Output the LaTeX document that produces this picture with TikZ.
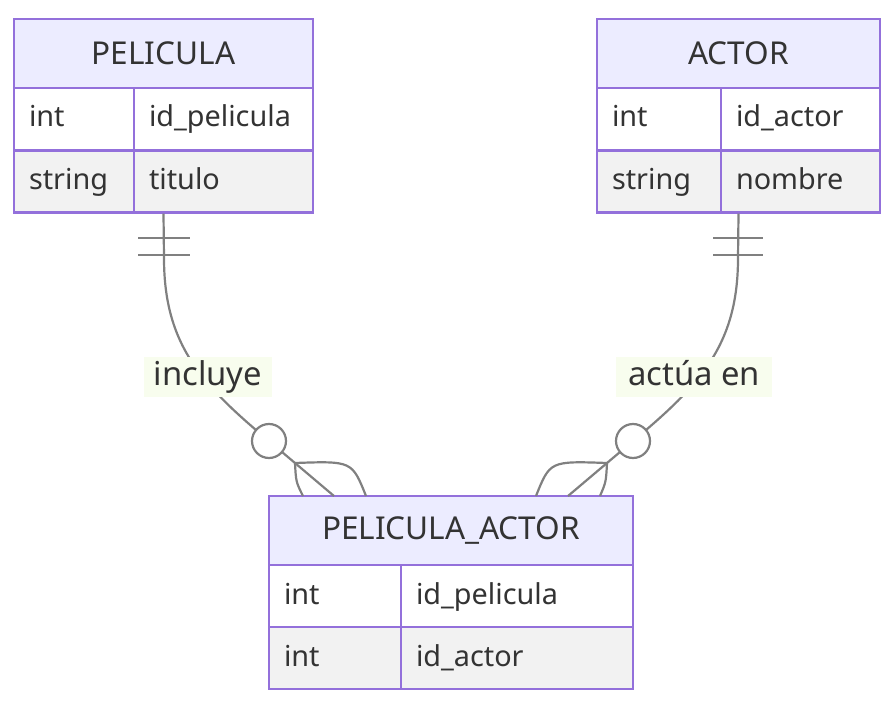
\documentclass[tikz,border=0pt]{standalone}
\usepackage{fontspec}
\usepackage{xcolor}
\usepackage{tikz}

\newfontfamily\ersans{Noto Sans}
\newcommand{\hdrfont}{\ersans\fontsize{31.5}{36}\selectfont}
\newcommand{\rowfont}{\ersans\fontsize{28.8}{32}\selectfont}
\newcommand{\lblfont}{\ersans\fontsize{32.8}{36}\selectfont}

\definecolor{erborder}{HTML}{9370DB}
\definecolor{erhead}{HTML}{ECECFF}
\definecolor{errow}{HTML}{F2F2F2}
\definecolor{ertext}{HTML}{333333}
\definecolor{erline}{HTML}{808080}
\definecolor{erlabel}{HTML}{F8FDEE}

\begin{document}
\begin{tikzpicture}[x=1pt, y=-1pt,
  hdr/.style={draw=erborder, line width=2.2pt, fill=erhead, text=ertext, minimum height=69pt, font=\hdrfont},
  cell/.style={draw=erborder, line width=2.2pt, text=ertext, minimum height=62pt, inner xsep=15pt, inner ysep=0pt, align=left, font=\rowfont, text width=#1, text height=21pt, text depth=5pt},
  oddrow/.style={fill=white},
  evenrow/.style={fill=errow},
  rel/.style={draw=erline, line width=2.2pt},
  zero/.style={circle, draw=erline, line width=2.2pt, fill=white, minimum size=34pt, inner sep=0pt},
  lbl/.style={fill=erlabel, text=ertext, font=\lblfont, inner sep=0pt, minimum height=40pt, text height=23pt, text depth=6pt}
]
\useasboundingbox (0,0) rectangle (896,703);

% PELICULA
\node[hdr, minimum width=299pt] (pel) at (163.5,53.5) {PELICULA};
\node[cell=90pt, oddrow] (pel-t1) at (74,119) {int};
\node[cell=149pt, oddrow] (pel-n1) at (223.5,119) {id\_pelicula};
\node[cell=90pt, evenrow] (pel-t2) at (74,181.5) {string};
\node[cell=149pt, evenrow] (pel-n2) at (223.5,181.5) {titulo};

% ACTOR
\node[hdr, minimum width=283pt] (act) at (738.5,53.5) {ACTOR};
\node[cell=94pt, oddrow] (act-t1) at (659,119) {int};
\node[cell=129pt, oddrow] (act-n1) at (800.5,119) {id\_actor};
\node[cell=94pt, evenrow] (act-t2) at (659,181.5) {string};
\node[cell=129pt, evenrow] (act-n2) at (800.5,181.5) {nombre};

% PELICULA_ACTOR
\node[hdr, minimum width=364pt] (pa) at (451,530.5) {PELICULA\_ACTOR};
\node[cell=102pt, oddrow] (pa-t1) at (335,596) {int};
\node[cell=202pt, oddrow] (pa-n1) at (517,596) {id\_pelicula};
\node[cell=102pt, evenrow] (pa-t2) at (335,658) {int};
\node[cell=202pt, evenrow] (pa-n2) at (517,658) {id\_actor};

\coordinate (pa-l) at (334,496);
\coordinate (pa-r) at (568,496);

% relations
\draw[rel] (pel.south |- pel-t2.south) -- (164,258) .. controls (164,345) and (202,385) .. (269,441) -- (pa-l);
\draw[rel] (act.south |- act-t2.south) -- (738,258) .. controls (738,345) and (700,385) .. (633,441) -- (pa-r);

% exactly one
\draw[rel] (138,238) -- (190,238);
\draw[rel] (138,255) -- (190,255);
\draw[rel] (713,238) -- (763,238);
\draw[rel] (713,255) -- (763,255);

% zero or more
\node[zero] (z-l) at (269,441) {};
\node[zero] (z-r) at (633,441) {};
\draw[rel] (295,463) .. controls (296,482) .. (303,496);
\draw[rel] (295,463) .. controls (352,461) .. (366,496);
\draw[rel] (607,463) .. controls (606,482) .. (600,496);
\draw[rel] (607,463) .. controls (550,461) .. (536,496);

\node[lbl, minimum width=128pt] (l-incl) at (208,377) {incluye};
\node[lbl, minimum width=156pt] (l-actua) at (694,377) {actúa en};
\end{tikzpicture}
\end{document}
